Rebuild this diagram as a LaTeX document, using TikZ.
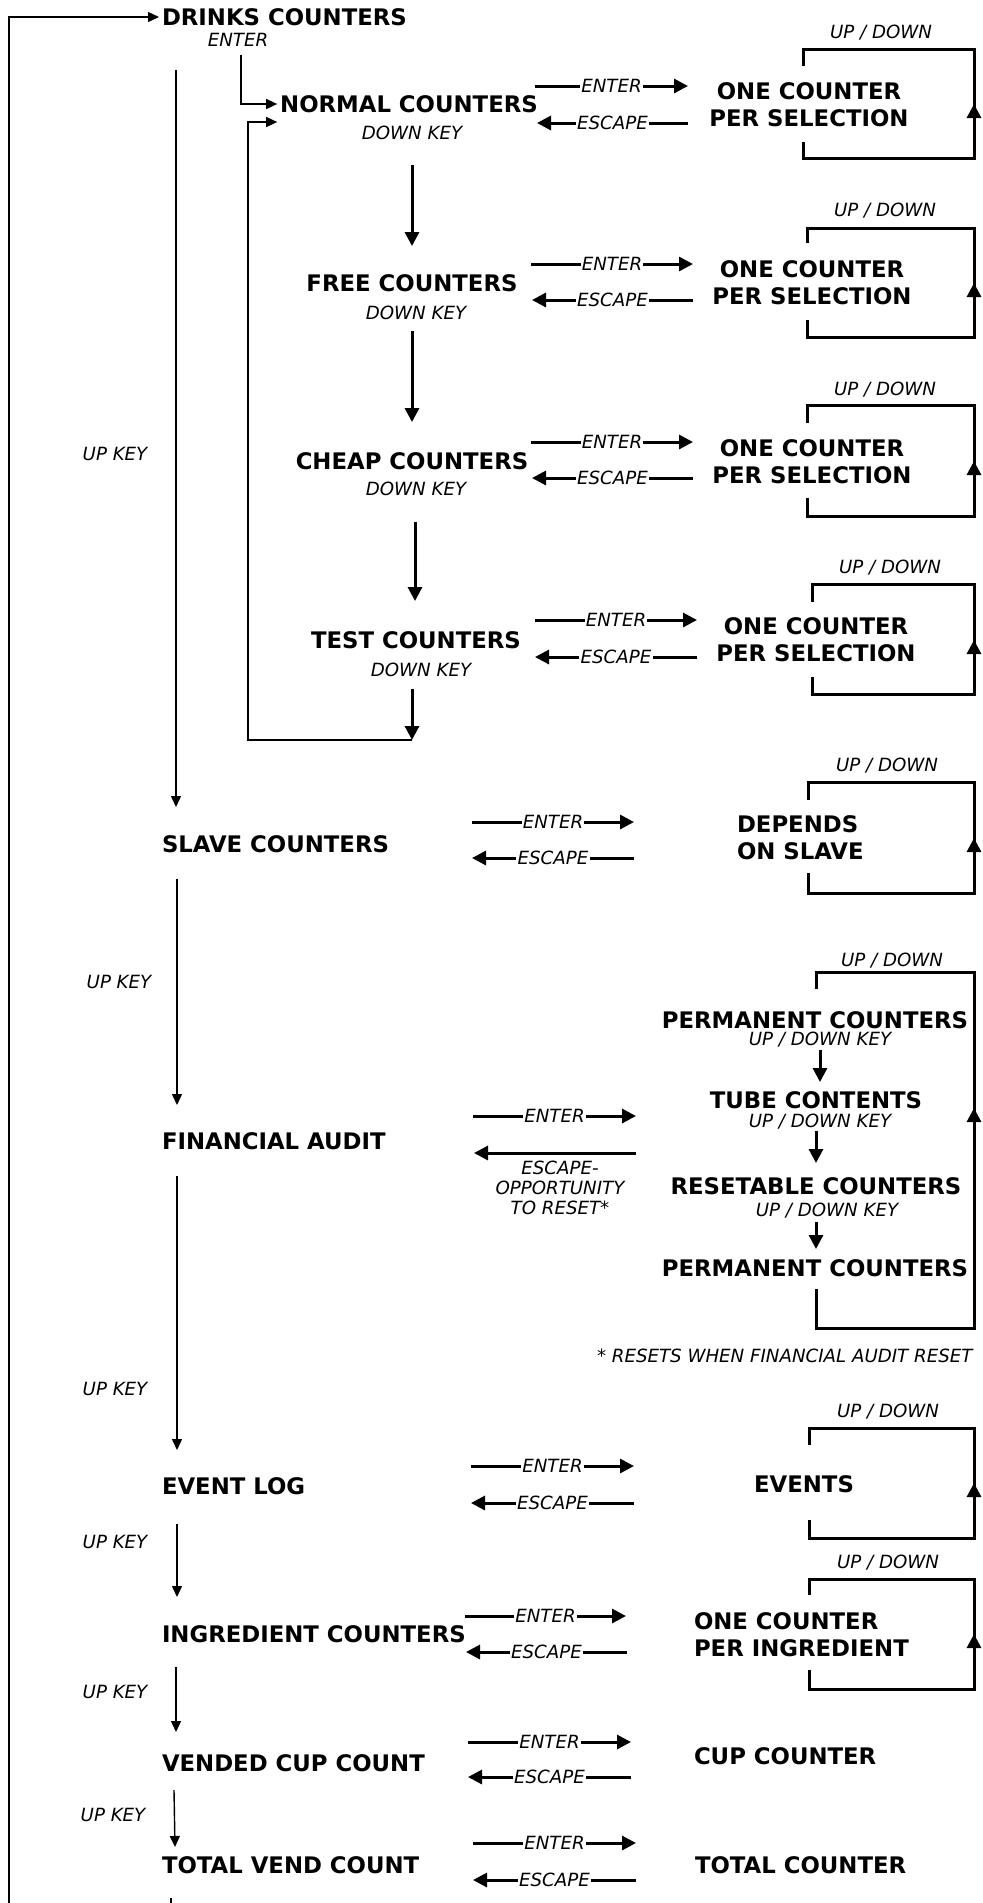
\documentclass[tikz,border=0pt]{standalone}
\usepackage{fontspec}
\setmainfont{DejaVu Sans}
\usetikzlibrary{arrows.meta}

\begin{document}
\begin{tikzpicture}[x=0.5pt,y=-0.5pt,
  title/.style={font=\fontsize{11.4}{13.5}\selectfont\bfseries,inner sep=0pt,outer sep=1.5pt,text height=8.3pt,text depth=0pt},
  titlepair/.style={font=\fontsize{11.4}{13.5}\selectfont\bfseries,inner sep=0pt,outer sep=1.5pt},
  hint/.style={font=\fontsize{9.1}{10}\selectfont\itshape,inner sep=0pt,outer sep=1.5pt,text height=6.6pt,text depth=0pt},
  hintlines/.style={font=\fontsize{9.1}{10}\selectfont\itshape,inner sep=0pt,align=center},
  onarrow/.style={hint,fill=white,inner xsep=0.6pt,inner ysep=1pt},
  thinarrow/.style={line width=0.7pt,-{Triangle[length=5.5pt,width=5pt]}},
  keyarrow/.style={line width=1.5pt,-{Triangle[length=7pt,width=7pt]}},
  ringline/.style={line width=1.5pt}]
\path[use as bounding box] (0,0) rectangle (982,1903);
\clip (0,0) rectangle (982,1903);

\node[title,anchor=west] (drinks) at (159,17) {DRINKS COUNTERS};
\node[hint] (drinksenter) at (238,40) {ENTER};
\node[title] (normal) at (409,104) {NORMAL COUNTERS};
\node[hint] (normaldown) at (412,133) {DOWN KEY};
\node[title] (free) at (412,283) {FREE COUNTERS};
\node[hint] (freedown) at (416,313) {DOWN KEY};
\node[title] (cheap) at (412,461) {CHEAP COUNTERS};
\node[hint] (cheapdown) at (416,489) {DOWN KEY};
\node[title] (test) at (416,640) {TEST COUNTERS};
\node[hint] (testdown) at (421,670) {DOWN KEY};
\node[title,anchor=west] (slave) at (159,844) {SLAVE COUNTERS};
\node[title,anchor=west] (audit) at (159,1141) {FINANCIAL AUDIT};
\node[title,anchor=west] (eventlog) at (159,1486) {EVENT LOG};
\node[title,anchor=west] (ingred) at (159,1634) {INGREDIENT COUNTERS};
\node[title,anchor=west] (vended) at (159,1763) {VENDED CUP COUNT};
\node[title,anchor=west] (total) at (159,1865) {TOTAL VEND COUNT};

\node[hint] (upkeyA) at (115,454) {UP KEY};
\node[hint] (upkeyB) at (119,982) {UP KEY};
\node[hint] (upkeyC) at (115,1389) {UP KEY};
\node[hint] (upkeyD) at (115,1542) {UP KEY};
\node[hint] (upkeyE) at (115,1692) {UP KEY};
\node[hint] (upkeyF) at (113,1815) {UP KEY};

\node[titlepair,align=center] (normalsel) at (809,104.5) {ONE COUNTER\\PER SELECTION};
\node[titlepair,align=center] (freesel) at (812,283) {ONE COUNTER\\PER SELECTION};
\node[titlepair,align=center] (cheapsel) at (812,462) {ONE COUNTER\\PER SELECTION};
\node[titlepair,align=center] (testsel) at (816,640) {ONE COUNTER\\PER SELECTION};
\node[titlepair,align=left,anchor=west] (slavedep) at (734,838) {DEPENDS\\ON SLAVE};
\node[title] (permtop) at (815,1020) {PERMANENT COUNTERS};
\node[hint] (permtopkey) at (820,1039) {UP / DOWN KEY};
\node[title] (tube) at (816,1100) {TUBE CONTENTS};
\node[hint] (tubekey) at (820,1121) {UP / DOWN KEY};
\node[title] (resetable) at (816,1186) {RESETABLE COUNTERS};
\node[hint] (resetablekey) at (827,1210) {UP / DOWN KEY};
\node[title] (permbottom) at (815,1268) {PERMANENT COUNTERS};
\node[hintlines] (escnote) at (560,1188) {ESCAPE-\\OPPORTUNITY\\TO RESET*};
\node[hint,anchor=west] (note) at (594,1356) {* RESETS WHEN FINANCIAL AUDIT RESET};
\node[title] (events) at (804,1484) {EVENTS};
\node[titlepair,align=left,anchor=west] (ingredsel) at (691,1634.5) {ONE COUNTER\\PER INGREDIENT};
\node[title,anchor=west] (cup) at (691,1756) {CUP COUNTER};
\node[title,anchor=west] (totalcnt) at (692,1865) {TOTAL COUNTER};

\node[hint] (normalud) at (881,32) {UP / DOWN};
\node[hint] (freeud) at (885,210) {UP / DOWN};
\node[hint] (cheapud) at (885,389) {UP / DOWN};
\node[hint] (testud) at (890,567) {UP / DOWN};
\node[hint] (slaveud) at (887,765) {UP / DOWN};
\node[hint] (auditud) at (892,960) {UP / DOWN};
\node[hint] (eventsud) at (888,1411) {UP / DOWN};
\node[hint] (ingredud) at (888,1562) {UP / DOWN};

\coordinate (loopstart) at (171,1898);
\coordinate (loopturn) at (9,1960);
\coordinate (dropA) at (241,55);
\coordinate (backA) at (412,740);
\coordinate (backB) at (248,122);
\draw[thinarrow] (loopstart) |- (loopturn) |- (drinks.west);
\draw[thinarrow] (dropA) |- (normal.west);
\draw[thinarrow] (backA) -| (backB) -- (backB -| normal.west);

\coordinate (u1a) at (176,70);  \coordinate (u1b) at (176,807);
\coordinate (u2a) at (177,879); \coordinate (u2b) at (177,1105);
\coordinate (u3a) at (177,1176); \coordinate (u3b) at (177,1450);
\coordinate (u4a) at (177,1524); \coordinate (u4b) at (177,1597);
\coordinate (u5a) at (176,1667); \coordinate (u5b) at (176,1732);
\coordinate (u6a) at (174,1790); \coordinate (u6b) at (175,1847);
\draw[thinarrow] (u1a) -- (u1b);
\draw[thinarrow] (u2a) -- (u2b);
\draw[thinarrow] (u3a) -- (u3b);
\draw[thinarrow] (u4a) -- (u4b);
\draw[thinarrow] (u5a) -- (u5b);
\draw[thinarrow] (u6a) -- (u6b);

\coordinate (d1a) at (412,165); \coordinate (d1b) at (412,246);
\coordinate (d2a) at (412,331); \coordinate (d2b) at (412,422);
\coordinate (d3a) at (415,522); \coordinate (d3b) at (415,601);
\coordinate (d4a) at (412,689);
\draw[keyarrow] (d1a) -- (d1b);
\draw[keyarrow] (d2a) -- (d2b);
\draw[keyarrow] (d3a) -- (d3b);
\draw[keyarrow] (d4a) -- (backA);

\coordinate (k1a) at (820,1050); \coordinate (k1b) at (820,1082);
\coordinate (k2a) at (816,1131); \coordinate (k2b) at (816,1163);
\coordinate (k3a) at (816,1222); \coordinate (k3b) at (816,1249);
\draw[keyarrow] (k1a) -- (k1b);
\draw[keyarrow] (k2a) -- (k2b);
\draw[keyarrow] (k3a) -- (k3b);

\coordinate (n1) at (535,86);   \coordinate (n2) at (688,86);
\coordinate (n3) at (688,123);  \coordinate (n4) at (537,123);
\coordinate (f1) at (531,264);  \coordinate (f2) at (693,264);
\coordinate (f3) at (693,300);  \coordinate (f4) at (532,300);
\coordinate (c1) at (531,442);  \coordinate (c2) at (693,442);
\coordinate (c3) at (693,478);  \coordinate (c4) at (532,478);
\coordinate (t1) at (535,620);  \coordinate (t2) at (697,620);
\coordinate (t3) at (697,657);  \coordinate (t4) at (535,657);
\coordinate (s1) at (472,822);  \coordinate (s2) at (634,822);
\coordinate (s3) at (634,858);  \coordinate (s4) at (472,858);
\coordinate (a1) at (473,1116); \coordinate (a2) at (636,1116);
\coordinate (a3) at (636,1153); \coordinate (a4) at (474,1153);
\coordinate (e1) at (471,1466); \coordinate (e2) at (634,1466);
\coordinate (e3) at (634,1503); \coordinate (e4) at (471,1503);
\coordinate (i1) at (465,1616); \coordinate (i2) at (626,1616);
\coordinate (i3) at (627,1652); \coordinate (i4) at (466,1652);
\coordinate (v1) at (468,1742); \coordinate (v2) at (631,1742);
\coordinate (v3) at (631,1777); \coordinate (v4) at (468,1777);
\coordinate (o1) at (473,1843); \coordinate (o2) at (636,1843);
\coordinate (o3) at (636,1880); \coordinate (o4) at (473,1880);
\draw[keyarrow] (n1) -- node[onarrow]{ENTER} (n2);
\draw[keyarrow] (n3) -- node[onarrow]{ESCAPE} (n4);
\draw[keyarrow] (f1) -- node[onarrow]{ENTER} (f2);
\draw[keyarrow] (f3) -- node[onarrow]{ESCAPE} (f4);
\draw[keyarrow] (c1) -- node[onarrow]{ENTER} (c2);
\draw[keyarrow] (c3) -- node[onarrow]{ESCAPE} (c4);
\draw[keyarrow] (t1) -- node[onarrow]{ENTER} (t2);
\draw[keyarrow] (t3) -- node[onarrow]{ESCAPE} (t4);
\draw[keyarrow] (s1) -- node[onarrow]{ENTER} (s2);
\draw[keyarrow] (s3) -- node[onarrow]{ESCAPE} (s4);
\draw[keyarrow] (a1) -- node[onarrow]{ENTER} (a2);
\draw[keyarrow] (a3) -- (a4);
\draw[keyarrow] (e1) -- node[onarrow]{ENTER} (e2);
\draw[keyarrow] (e3) -- node[onarrow]{ESCAPE} (e4);
\draw[keyarrow] (i1) -- node[onarrow]{ENTER} (i2);
\draw[keyarrow] (i3) -- node[onarrow]{ESCAPE} (i4);
\draw[keyarrow] (v1) -- node[onarrow]{ENTER} (v2);
\draw[keyarrow] (v3) -- node[onarrow]{ESCAPE} (v4);
\draw[keyarrow] (o1) -- node[onarrow]{ENTER} (o2);
\draw[keyarrow] (o3) -- node[onarrow]{ESCAPE} (o4);

\coordinate (Ns) at (803,66);   \coordinate (Nt) at (974,49);
\coordinate (Nb) at (803,158);  \coordinate (Ne) at (803,142);  \coordinate (Nm) at (974,104);
\coordinate (Fs) at (807,243);  \coordinate (Ft) at (974,228);
\coordinate (Fb) at (807,337);  \coordinate (Fe) at (807,320);  \coordinate (Fm) at (974,283);
\coordinate (Cs) at (807,423);  \coordinate (Ct) at (974,405);
\coordinate (Cb) at (807,516);  \coordinate (Ce) at (807,498);  \coordinate (Cm) at (974,461);
\coordinate (Ts) at (812,602);  \coordinate (Tt) at (974,584);
\coordinate (Tb) at (812,694);  \coordinate (Te) at (812,677);  \coordinate (Tm) at (974,640);
\coordinate (Ss) at (808,800);  \coordinate (St) at (974,782);
\coordinate (Sb) at (808,893);  \coordinate (Se) at (808,873);  \coordinate (Sm) at (974,838);
\coordinate (As) at (816,989);  \coordinate (At) at (974,972);
\coordinate (Ab) at (816,1328); \coordinate (Ae) at (816,1289); \coordinate (Am) at (974,1108);
\coordinate (Es) at (809,1445); \coordinate (Et) at (974,1428);
\coordinate (Eb) at (809,1538); \coordinate (Ee) at (809,1520); \coordinate (Em) at (974,1483);
\coordinate (Is) at (809,1595); \coordinate (It) at (974,1579);
\coordinate (Ib) at (809,1689); \coordinate (Ie) at (809,1670); \coordinate (Im) at (974,1634);
\draw[ringline] (Ns) |- (Nt) |- (Nb) -- (Ne);
\draw[keyarrow] (Nb -| Nt) -- (Nm);
\draw[ringline] (Fs) |- (Ft) |- (Fb) -- (Fe);
\draw[keyarrow] (Fb -| Ft) -- (Fm);
\draw[ringline] (Cs) |- (Ct) |- (Cb) -- (Ce);
\draw[keyarrow] (Cb -| Ct) -- (Cm);
\draw[ringline] (Ts) |- (Tt) |- (Tb) -- (Te);
\draw[keyarrow] (Tb -| Tt) -- (Tm);
\draw[ringline] (Ss) |- (St) |- (Sb) -- (Se);
\draw[keyarrow] (Sb -| St) -- (Sm);
\draw[ringline] (As) |- (At) |- (Ab) -- (Ae);
\draw[keyarrow] (Ab -| At) -- (Am);
\draw[ringline] (Es) |- (Et) |- (Eb) -- (Ee);
\draw[keyarrow] (Eb -| Et) -- (Em);
\draw[ringline] (Is) |- (It) |- (Ib) -- (Ie);
\draw[keyarrow] (Ib -| It) -- (Im);
\end{tikzpicture}
\end{document}
